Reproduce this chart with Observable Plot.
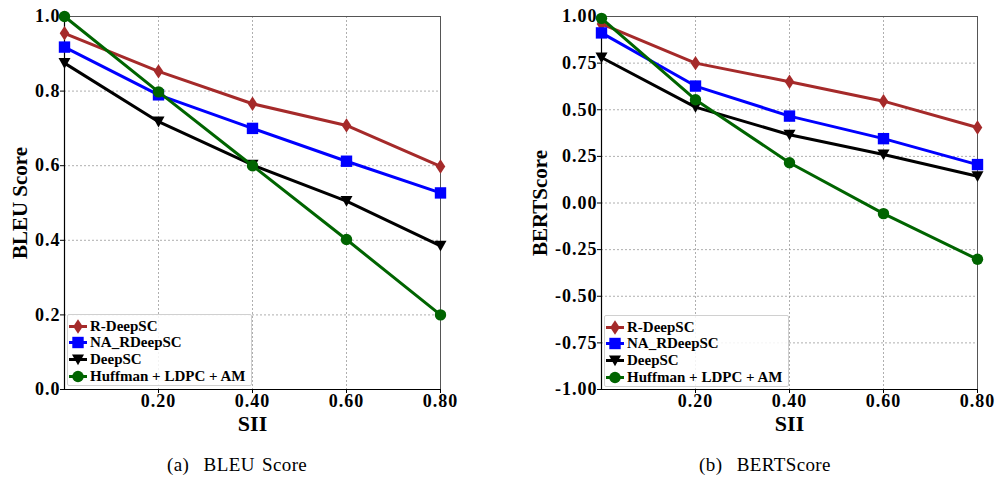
<!DOCTYPE html>
<html>
<head>
<meta charset="utf-8">
<script src="https://cdn.jsdelivr.net/npm/d3@7"></script>
<script src="https://cdn.jsdelivr.net/npm/@observablehq/plot@0.6"></script>
<style>
  html, body { margin: 0; padding: 0; background: #fff; }
  #wrap { position: relative; width: 997px; height: 477px; overflow: hidden; font-family: "Liberation Serif", "Times New Roman", "DejaVu Serif", serif; }
  .panel { position: absolute; top: 0; height: 477px; }
  .panel svg { overflow: visible; }
  g[aria-label="x-axis tick label"] text, g[aria-label="y-axis tick label"] text { letter-spacing: 1px; }
  .legend { position: absolute; background: rgba(255,255,255,0.85); border: 1px solid #d0d0d0; border-radius: 2px; box-sizing: border-box; }
  .legend .item { position: absolute; left: 0; height: 17px; display: flex; align-items: center; font-weight: bold; font-size: 15px; white-space: nowrap; }
  .legend svg { display: block; }
  .caption { position: absolute; top: 454px; font-size: 19px; letter-spacing: 0.4px; word-spacing: 2px; white-space: pre; }
</style>
</head>
<body>
<div id="wrap"></div>
<script>
// ---- data ----
const sii = [0, 0.2, 0.4, 0.6, 0.8];
const seriesNames = ["R-DeepSC", "NA_RDeepSC", "DeepSC", "Huffman + LDPC + AM"];
const seriesColors = ["#a52a2a", "#0000ff", "#000000", "#006400"];

const bleuRDeepSC   = [0.955, 0.853, 0.766, 0.708, 0.598];
const bleuNARDeepSC = [0.918, 0.790, 0.700, 0.612, 0.527];
const bleuDeepSC    = [0.875, 0.718, 0.602, 0.505, 0.385];
const bleuHuffman   = [1.000, 0.798, 0.600, 0.402, 0.200];

const bertRDeepSC   = [0.960, 0.750, 0.650, 0.546, 0.405];
const bertNARDeepSC = [0.912, 0.627, 0.466, 0.345, 0.206];
const bertDeepSC    = [0.780, 0.514, 0.366, 0.260, 0.143];
const bertHuffman   = [0.990, 0.554, 0.216, -0.057, -0.302];

const xTicks = [0.2, 0.4, 0.6, 0.8];
const bleuYTicks = [0, 0.2, 0.4, 0.6, 0.8, 1.0];
const bertYTicks = [-1, -0.75, -0.5, -0.25, 0, 0.25, 0.5, 0.75, 1];

// ---- marker symbols (matplotlib-like) ----
const rad = s => Math.sqrt(s / Math.PI);
const thinDiamond = { draw(c, s) { const r = rad(s); c.moveTo(0, -r * 1.2); c.lineTo(r * 0.8, 0); c.lineTo(0, r * 1.2); c.lineTo(-r * 0.8, 0); c.closePath(); } };
const squareSym = { draw(c, s) { const r = rad(s) * 0.95; c.moveTo(-r, -r); c.lineTo(r, -r); c.lineTo(r, r); c.lineTo(-r, r); c.closePath(); } };
const triDown = { draw(c, s) { const r = rad(s); c.moveTo(-r, -r * 0.85); c.lineTo(r, -r * 0.85); c.lineTo(0, r * 0.95); c.closePath(); } };
const circleSym = { draw(c, s) { const r = rad(s) * 0.95; c.moveTo(r, 0); c.arc(0, 0, r, 0, 2 * Math.PI); } };
const seriesSymbols = [thinDiamond, squareSym, triDown, circleSym];

function rows(valuesList) {
  return valuesList.map((vals, i) => sii.map((x, j) => ({ x, y: vals[j], s: i })));
}

function makePlot({ values, yDomain, yTicks, fmt, ylabel, width, ml, mr, ylabelDx }) {
  const marks = [
    Plot.gridX(xTicks.slice(0, 3), { stroke: "#9a9a9a", strokeOpacity: 1, strokeDasharray: "2,2", strokeWidth: 0.8 }),
    Plot.gridY(yTicks, { stroke: "#9a9a9a", strokeOpacity: 1, strokeDasharray: "2,2", strokeWidth: 0.8 }),
    Plot.frame({ stroke: "#555", strokeWidth: 1 }),
    Plot.ruleX([0], { stroke: "#000", strokeWidth: 1.2 }),
    Plot.ruleY([yDomain[0]], { stroke: "#000", strokeWidth: 1.2 }),
    Plot.axisX(xTicks, { tickSize: 4, tickPadding: 1, tickFormat: d => d.toFixed(2), fontSize: 18, fontWeight: "bold", label: null }),
    Plot.axisY(yTicks, { tickSize: 4, tickPadding: 0, tickFormat: fmt, fontSize: 18, fontWeight: "bold", label: null }),
    Plot.text([ylabel], { frameAnchor: "left", textAnchor: "middle", lineAnchor: "middle", dx: ylabelDx, rotate: -90, fontSize: 21, fontWeight: "bold", fill: "#000" }),
    Plot.text(["SII"], { frameAnchor: "bottom", textAnchor: "middle", lineAnchor: "middle", dy: 34, fontSize: 22, fontWeight: "bold", fill: "#000" })
  ];
  rows(values).forEach((data, i) => {
    marks.push(Plot.line(data, { x: "x", y: "y", stroke: seriesColors[i], strokeWidth: 3 }));
    marks.push(Plot.dot(data, { x: "x", y: "y", symbol: seriesSymbols[i], r: 6, fill: seriesColors[i], stroke: "none" }));
  });
  return Plot.plot({
    width, height: 445,
    marginLeft: ml, marginRight: mr, marginTop: 16, marginBottom: 56,
    x: { domain: [0, 0.8], axis: null },
    y: { domain: yDomain, axis: null },
    style: { fontFamily: "'Liberation Serif', 'Times New Roman', 'DejaVu Serif', serif", color: "#000", background: "transparent", overflow: "visible" },
    marks
  });
}

function makeLegend(left, top) {
  const lg = document.createElement("div");
  lg.className = "legend";
  Object.assign(lg.style, { left: left + "px", top: top + "px", width: "185px", height: "72px" });
  seriesNames.forEach((name, i) => {
    const it = document.createElement("div");
    it.className = "item";
    it.style.top = (2.5 + i * 16.9) + "px";
    const svg = d3.create("svg").attr("width", 22).attr("height", 17);
    svg.append("line").attr("x1", 1).attr("x2", 19).attr("y1", 8.5).attr("y2", 8.5).attr("stroke", seriesColors[i]).attr("stroke-width", 3);
    const p = d3.path();
    seriesSymbols[i].draw(p, 36 * Math.PI);
    svg.append("path").attr("d", p.toString()).attr("transform", "translate(10,8.5)").attr("fill", seriesColors[i]);
    it.appendChild(svg.node());
    const t = document.createElement("span");
    t.textContent = name;
    it.appendChild(t);
    lg.appendChild(it);
  });
  return lg;
}

const wrap = document.getElementById("wrap");

// left panel
const p1 = document.createElement("div");
p1.className = "panel"; p1.style.left = "0px"; p1.style.width = "498px";
p1.appendChild(makePlot({ values: [bleuRDeepSC, bleuNARDeepSC, bleuDeepSC, bleuHuffman], yDomain: [0, 1], yTicks: bleuYTicks, fmt: d => d.toFixed(1), ylabel: "BLEU Score", width: 498, ml: 64, mr: 58, ylabelDx: -44 }));
p1.appendChild(makeLegend(67, 314));
const c1 = document.createElement("div");
c1.className = "caption"; c1.textContent = "(a)  BLEU Score"; c1.style.left = "167px";
p1.appendChild(c1);
wrap.appendChild(p1);

// right panel
const p2 = document.createElement("div");
p2.className = "panel"; p2.style.left = "498px"; p2.style.width = "499px";
p2.appendChild(makePlot({ values: [bertRDeepSC, bertNARDeepSC, bertDeepSC, bertHuffman], yDomain: [-1, 1], yTicks: bertYTicks, fmt: d => d.toFixed(2), ylabel: "BERTScore", width: 499, ml: 103, mr: 20, ylabelDx: -61 }));
p2.appendChild(makeLegend(604 - 498, 315));
const c2 = document.createElement("div");
c2.className = "caption"; c2.textContent = "(b)  BERTScore"; c2.style.left = (699 - 498) + "px";
p2.appendChild(c2);
wrap.appendChild(p2);
</script>
</body>
</html>
